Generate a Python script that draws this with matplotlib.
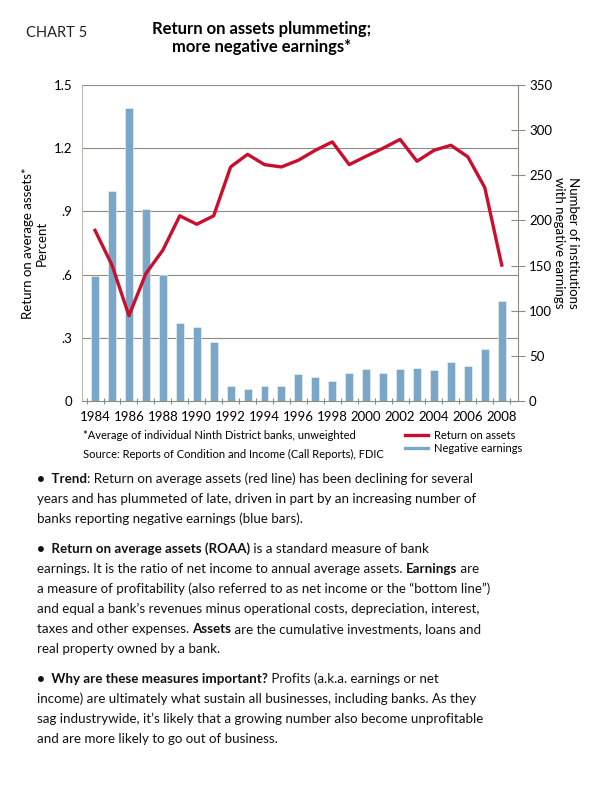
import matplotlib
matplotlib.use('Agg')
import matplotlib.pyplot as plt
from matplotlib.font_manager import FontProperties

plt.rcParams['font.family'] = ['Lato', 'DejaVu Sans']

# 数据
years = list(range(1984, 2009))
roaa = [0.81, 0.645, 0.405, 0.605, 0.716, 0.879, 0.839, 0.879, 1.111, 1.171,
        1.122, 1.111, 1.143, 1.19, 1.23, 1.122, 1.162, 1.2, 1.242, 1.138,
        1.19, 1.214, 1.159, 1.013, 0.645]
neg_earn = [138, 233, 325, 213, 140, 86, 82, 65, 17, 13,
            17, 17, 30, 27, 22, 31, 35, 31, 35, 36,
            34, 43, 39, 58, 111]
left_ticks = [0, 0.3, 0.6, 0.9, 1.2, 1.5]
left_labels = ['0', '.3', '.6', '.9', '1.2', '1.5']
right_ticks = [0, 50, 100, 150, 200, 250, 300, 350]
year_labels = [str(y) for y in range(1984, 2009, 2)]

bg = '#e2e5d7'
red = '#c8102e'
blue = '#7aa7c9'
grid_c = '#8c8c84'

W, H = 600, 806
fig = plt.figure(figsize=(6, 8.06), dpi=100)
ax = fig.add_axes([82 / W, 1 - 401 / H, 436 / W, 316 / H])
ax2 = ax.twinx()

# 柱状图（右轴）
ax2.bar(years, neg_earn, width=0.47, color=blue, edgecolor='#f4f6ee', linewidth=0.4, zorder=2)
ax2.set_ylim(0, 350)
ax2.set_yticks(right_ticks)
ax2.tick_params(axis='y', direction='inout', length=10, width=0.8, color=grid_c,
                labelsize=9.5, pad=3)

# 折线（左轴）放在上层
ax.set_zorder(ax2.get_zorder() + 1)
ax.patch.set_visible(False)
ax2.patch.set_facecolor(bg)
ax.plot(years, roaa, color=red, linewidth=2.4, zorder=3)
ax.set_ylim(0, 1.5)
ax.set_yticks(left_ticks)
ax.set_yticklabels(left_labels)
ax.tick_params(axis='y', length=0, labelsize=9.5, pad=7)
for t in left_ticks[1:]:
    ax2.axhline(t / 1.5 * 350, color=grid_c, linewidth=0.8, zorder=1)

ax.set_xlim(1983.23, 2008.96)
ax.set_xticks(range(1984, 2009, 2))
ax.set_xticklabels(year_labels)
ax.set_xticks([y - 0.5 for y in years] + [2008.5], minor=True)
ax.tick_params(axis='x', which='major', length=0, labelsize=9.5, pad=7)
ax.tick_params(axis='x', which='minor', length=5, width=0.8, color=grid_c, direction='inout')

for a in (ax, ax2):
    for s in a.spines.values():
        s.set_visible(False)
ax.spines['bottom'].set_visible(True)
ax.spines['bottom'].set_color(grid_c)
ax.spines['left'].set_visible(True)
ax.spines['left'].set_color('#b8bcae')
ax2.spines['right'].set_visible(True)
ax2.spines['right'].set_color(grid_c)

fig.text(35 / W, 1 - 243 / H, 'Return on average assets*\nPercent', rotation=90,
         ha='center', va='center', fontsize=9.5, linespacing=1.2)
fig.text(566 / W, 1 - 243 / H, 'Number of institutions\nwith negative earnings', rotation=270,
         ha='center', va='center', fontsize=9.5, linespacing=1.2)

# 标题
fig.text(26 / W, 1 - 33 / H, 'CHART 5', fontsize=10.5, ha='left', va='center', color='#222222')
fig.text(262 / W, 1 - 38 / H, 'Return on assets plummeting;\nmore negative earnings*',
         fontsize=12, fontweight='bold', ha='center', va='center', linespacing=1.2)

# 注释与图例
fig.text(83 / W, 1 - 435 / H, '*Average of individual Ninth District banks, unweighted',
         fontsize=8, ha='left', va='center')
fig.text(83 / W, 1 - 454 / H, 'Source: Reports of Condition and Income (Call Reports), FDIC',
         fontsize=8, ha='left', va='center')
fig.add_artist(plt.Line2D([405 / W, 428 / W], [1 - 435 / H] * 2, color=red, linewidth=2.4))
fig.add_artist(plt.Line2D([405 / W, 428 / W], [1 - 448 / H] * 2, color=blue, linewidth=2.4))
fig.text(434 / W, 1 - 435 / H, 'Return on assets', fontsize=8, ha='left', va='center')
fig.text(434 / W, 1 - 448 / H, 'Negative earnings', fontsize=8, ha='left', va='center')

# 正文：每行由若干 (文字, 是否加粗) 片段组成
lines = [
    (483, [('\u2022  Trend', True), (': Return on average assets (red line) has been declining for several', False)]),
    (503, [('years and has plummeted of late, driven in part by an increasing number of', False)]),
    (523, [('banks reporting negative earnings (blue bars).', False)]),
    (553, [('\u2022  Return on average assets (ROAA)', True), (' is a standard measure of bank', False)]),
    (573, [('earnings. It is the ratio of net income to annual average assets. ', False), ('Earnings', True), (' are', False)]),
    (593, [('a measure of profitability (also referred to as net income or the \u201cbottom line\u201d)', False)]),
    (613, [('and equal a bank\u2019s revenues minus operational costs, depreciation, interest,', False)]),
    (633, [('taxes and other expenses. ', False), ('Assets', True), (' are the cumulative investments, loans and', False)]),
    (653, [('real property owned by a bank.', False)]),
    (683, [('\u2022  Why are these measures important?', True), (' Profits (a.k.a. earnings or net', False)]),
    (703, [('income) are ultimately what sustain all businesses, including banks. As they', False)]),
    (723, [('sag industrywide, it\u2019s likely that a growing number also become unprofitable', False)]),
    (743, [('and are more likely to go out of business.', False)]),
]
body_size = 9.6
renderer = fig.canvas.get_renderer()


def text_width(s, prop):
    # 加一个字符再减掉，保留首尾空格的宽度
    w1, _, _ = renderer.get_text_width_height_descent(s + 'x', prop, ismath=False)
    w2, _, _ = renderer.get_text_width_height_descent('x', prop, ismath=False)
    return w1 - w2


for y, parts in lines:
    x = 37
    for txt, bold in parts:
        prop = FontProperties(family=['Lato', 'DejaVu Sans'], size=body_size,
                              weight='bold' if bold else 'normal')
        fig.text(x / W, 1 - y / H, txt, fontproperties=prop, ha='left', va='baseline',
                 color='#111111')
        x += text_width(txt, prop)

plt.savefig('out.png', dpi=100)
